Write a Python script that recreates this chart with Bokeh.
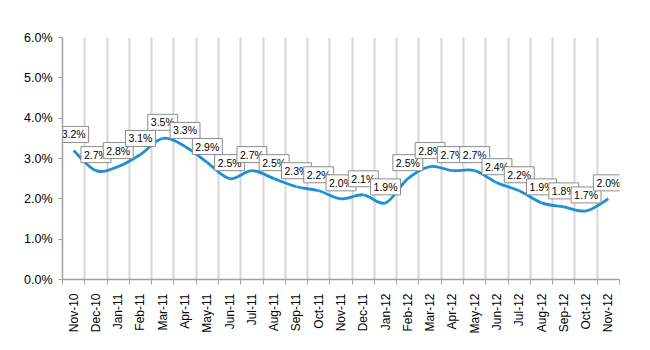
import math
from bokeh.plotting import figure
from bokeh.models import ColumnDataSource, FixedTicker, Range1d
from bokeh.embed import file_html
from bokeh.resources import INLINE
from bokeh.core.properties import value

months = ["Nov-10", "Dec-10", "Jan-11", "Feb-11", "Mar-11", "Apr-11", "May-11", "Jun-11",
          "Jul-11", "Aug-11", "Sep-11", "Oct-11", "Nov-11", "Dec-11", "Jan-12", "Feb-12",
          "Mar-12", "Apr-12", "May-12", "Jun-12", "Jul-12", "Aug-12", "Sep-12", "Oct-12", "Nov-12"]
rates = [3.2, 2.7, 2.8, 3.1, 3.5, 3.3, 2.9, 2.5, 2.7, 2.5, 2.3, 2.2, 2.0, 2.1, 1.9, 2.5,
         2.8, 2.7, 2.7, 2.4, 2.2, 1.9, 1.8, 1.7, 2.0]
y_ticks = [0, 1, 2, 3, 4, 5, 6]
y_tick_labels = ["0.0%", "1.0%", "2.0%", "3.0%", "4.0%", "5.0%", "6.0%"]

n = len(months)
xs = list(range(n))
src = ColumnDataSource(dict(x=xs, y=rates, lab=[f"{v:.1f}%" for v in rates]))

# smoothed (Excel-style) line: Bezier segments between consecutive data points
t = 1.0
x0, y0, x1, y1, cx0, cy0, cx1, cy1 = [], [], [], [], [], [], [], []
for i in range(n - 1):
    im = max(i - 1, 0)
    ip = min(i + 2, n - 1)
    x0.append(xs[i]); y0.append(rates[i])
    x1.append(xs[i + 1]); y1.append(rates[i + 1])
    cx0.append(xs[i] + t * (xs[i + 1] - xs[im]) / 6)
    cy0.append(rates[i] + t * (rates[i + 1] - rates[im]) / 6)
    cx1.append(xs[i + 1] - t * (xs[ip] - xs[i]) / 6)
    cy1.append(rates[i + 1] - t * (rates[ip] - rates[i]) / 6)
bsrc = ColumnDataSource(dict(x0=x0, y0=y0, x1=x1, y1=y1, cx0=cx0, cy0=cy0, cx1=cx1, cy1=cy1))

p = figure(width=650, height=350, output_backend="svg", toolbar_location=None,
           x_range=Range1d(-0.5, n - 0.5), y_range=Range1d(0, 6),
           min_border_left=62, min_border_right=31, min_border_top=37, min_border_bottom=71)
p.outline_line_color = None
p.background_fill_color = "white"
p.border_fill_color = "white"

boundaries = [i - 0.5 for i in range(n + 1)]
p.xaxis.ticker = FixedTicker(ticks=xs, minor_ticks=boundaries)
p.xaxis.major_label_overrides = {i: m for i, m in enumerate(months)}
p.xaxis.major_label_orientation = math.pi / 2
p.xaxis.major_tick_line_color = None
p.xaxis.minor_tick_line_color = "#a0a0a0"
p.xaxis.minor_tick_out = 5
p.xaxis.minor_tick_in = 0
p.xaxis.axis_line_color = "#a0a0a0"
p.xaxis.axis_line_width = 1.5
p.xaxis.major_label_text_font = "Liberation Sans"
p.xaxis.major_label_text_font_size = "12px"
p.xaxis.major_label_text_color = "black"
p.xaxis.major_label_standoff = 8

p.yaxis.ticker = FixedTicker(ticks=y_ticks)
p.yaxis.major_label_overrides = {tk: l for tk, l in zip(y_ticks, y_tick_labels)}
p.yaxis.minor_tick_line_color = None
p.yaxis.major_tick_line_color = "#a0a0a0"
p.yaxis.major_tick_out = 4
p.yaxis.major_tick_in = 0
p.yaxis.axis_line_color = "#a0a0a0"
p.yaxis.axis_line_width = 1.5
p.yaxis.major_label_text_font = "Liberation Sans"
p.yaxis.major_label_text_font_size = "12.5px"
p.yaxis.major_label_text_color = "black"
p.yaxis.major_label_standoff = 6

p.ygrid.grid_line_color = None
p.xgrid.ticker = FixedTicker(ticks=boundaries[1:])
p.xgrid.grid_line_color = "#d6d6d6"
p.xgrid.grid_line_width = 2

p.bezier(x0="x0", y0="y0", x1="x1", y1="y1", cx0="cx0", cy0="cy0", cx1="cx1", cy1="cy1",
         source=bsrc, line_color="#1e8fd5", line_width=2.8)

p.text(x="x", y="y", text="lab", source=src, text_align="center", text_baseline="middle",
       y_offset=-16, text_font=value("Liberation Sans"), text_font_size="10.5px",
       text_color="black", background_fill_color="white", border_line_color="#8c8c8c",
       border_line_width=1, padding=(3, 2))

open("out.html", "w").write(file_html(p, INLINE))
